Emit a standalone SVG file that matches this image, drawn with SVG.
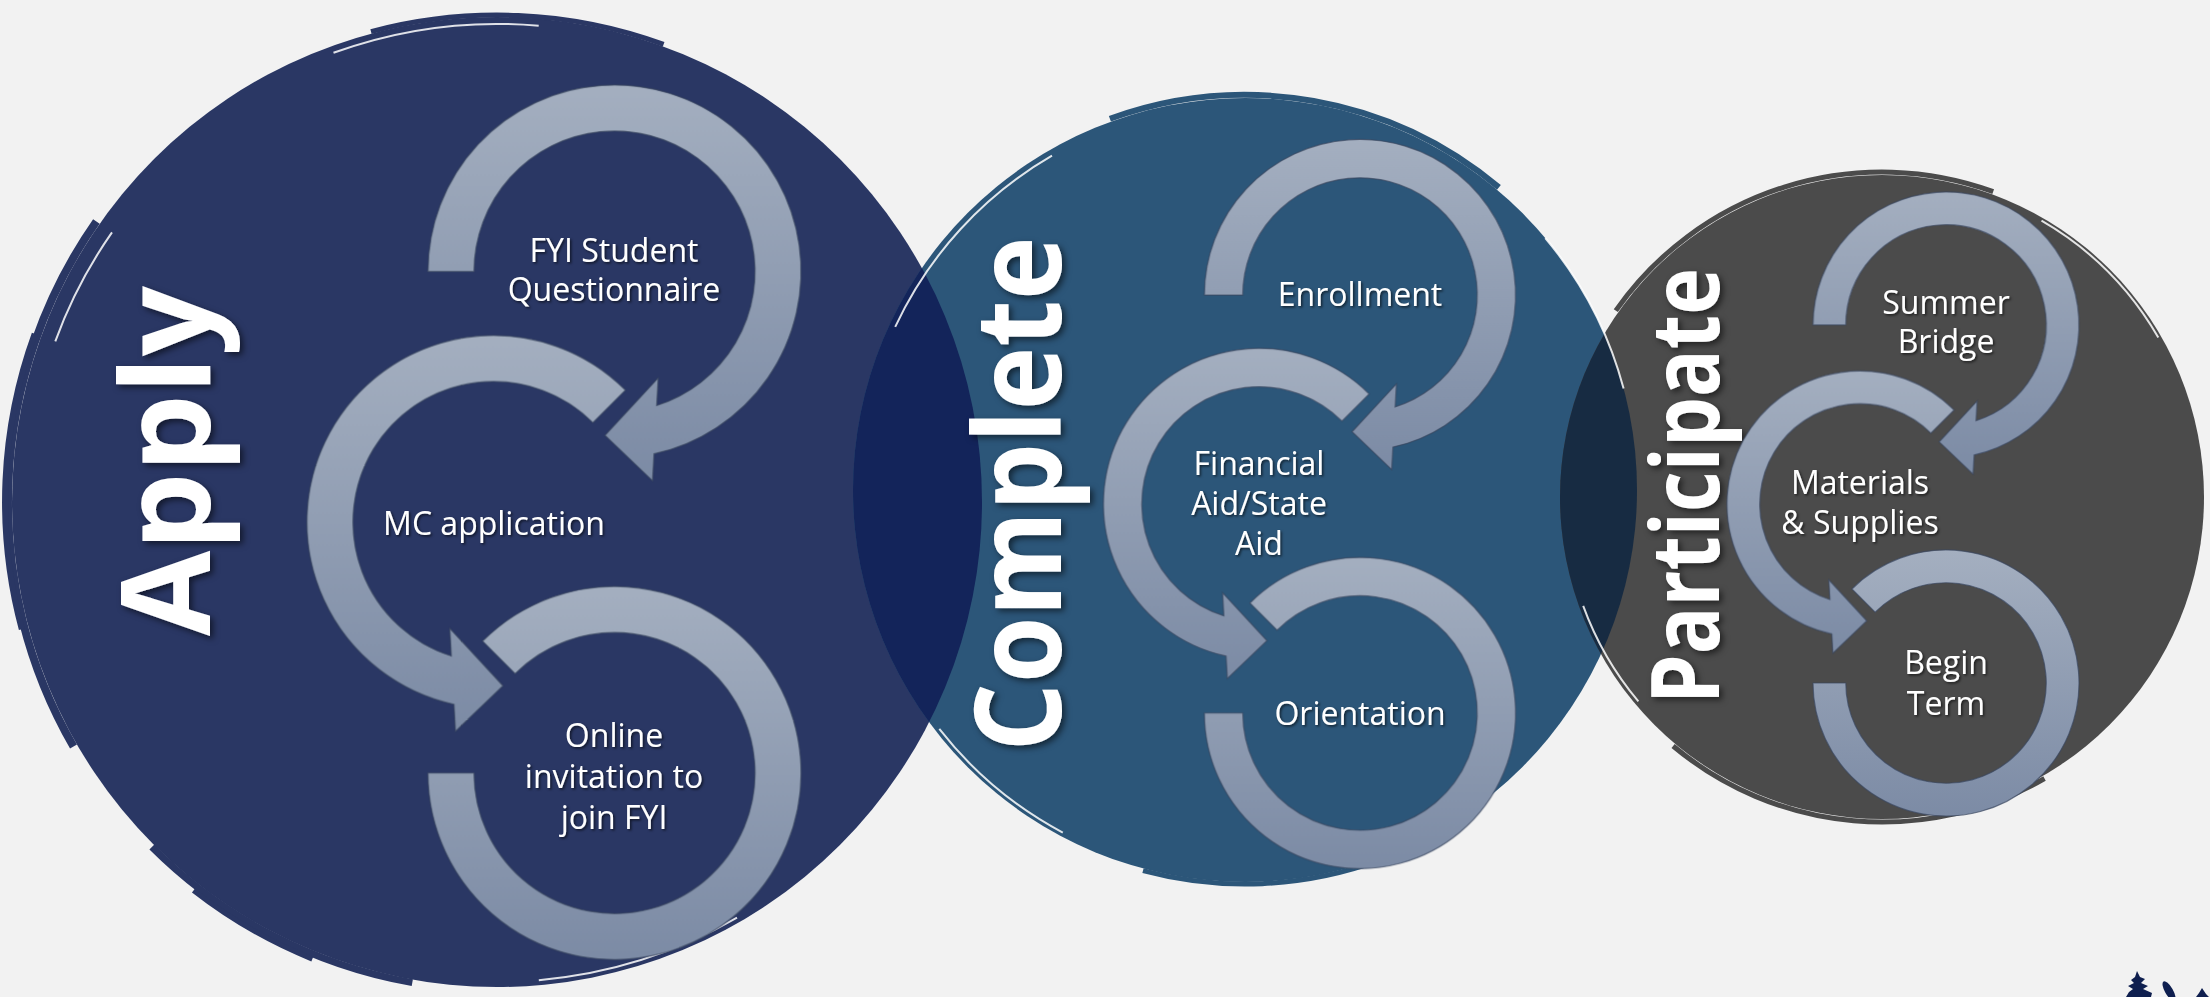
<svg xmlns="http://www.w3.org/2000/svg" width="2210" height="997" viewBox="0 0 2210 997">
<style>
.lbl{font-family:"Open Sans","Noto Sans","Liberation Sans",sans-serif;font-size:32px;fill:#ffffff;text-anchor:middle}
.ttl{font-family:"Open Sans","Noto Sans","Liberation Sans",sans-serif;font-weight:700;fill:#ffffff;text-anchor:middle}
.ring{fill:url(#rg);stroke:#3b475f;stroke-opacity:0.7;stroke-width:1.2}
.bA{fill:none;stroke:#2a3764}
.bC{fill:none;stroke:#2c5679}
.bP{fill:none;stroke:#4b4b4b}
.wh{fill:none;stroke:#ffffff;stroke-opacity:0.85;stroke-width:2}
</style>
<defs>
<linearGradient id="rg" x1="0" y1="0" x2="0" y2="1">
<stop offset="0" stop-color="#a4afc0"/>
<stop offset="1" stop-color="#7c8ba5"/>
</linearGradient>
<filter id="ts" x="-20%" y="-20%" width="140%" height="140%">
<feDropShadow dx="3" dy="3" stdDeviation="3" flood-color="#000000" flood-opacity="0.55"/>
</filter>
<filter id="ls" x="-20%" y="-30%" width="140%" height="160%">
<feDropShadow dx="1.5" dy="1.5" stdDeviation="1.2" flood-color="#000000" flood-opacity="0.6"/>
</filter>
<path id="rT" vector-effect="non-scaling-stroke" d="M-100 0 A100 100 0 1 1 21.18 97.73 L20.38 112.16 L-5.07 87.85 L23.42 57.09 L22.6 71.88 A75.35 75.35 0 1 0 -75.35 0 Z"/>
<path id="rM" vector-effect="non-scaling-stroke" d="M70.71 -70.71 A100 100 0 1 0 -21.18 97.73 L-20.38 112.16 L5.07 87.85 L-23.42 57.09 L-22.6 71.88 A75.35 75.35 0 1 1 53.28 -53.28 Z"/>
<path id="rB" vector-effect="non-scaling-stroke" d="M-70.71 -70.71 A100 100 0 1 1 -100 0 L-75.35 0 A75.35 75.35 0 1 0 -53.28 -53.28 Z"/>
<clipPath id="cA"><circle cx="497" cy="502" r="485"/></clipPath>
<clipPath id="cP"><circle cx="1882" cy="497" r="322"/></clipPath>
</defs>

<rect x="0" y="0" width="2210" height="997" fill="#f2f2f2"/>

<g id="backgrounds">
<circle id="circle-apply" cx="497" cy="502" r="485" fill="#2a3764"/>
<circle id="circle-complete" cx="1245" cy="490" r="392" fill="#2c5679"/>
<circle id="circle-participate" cx="1882" cy="497" r="322" fill="#4b4b4b"/>
<circle cx="1245" cy="490" r="392" fill="#13245a" clip-path="url(#cA)"/>
<circle cx="1245" cy="490" r="392" fill="#172b42" clip-path="url(#cP)"/>
</g>

<g id="brush">
<path class="bA" stroke-width="8" d="M73.5 746.5 A489 489 0 0 1 96.4 221.5"/>
<path class="bA" stroke-width="6" d="M21.8 629.3 A492 492 0 0 1 34.7 333.7"/>
<path class="bA" stroke-width="7" d="M412.3 982.6 A488 488 0 0 1 151.9 847.1"/>
<path class="bA" stroke-width="5" d="M312.3 959.1 A493 493 0 0 1 193.5 890.5"/>
<path class="bA" stroke-width="5" d="M371 31.6 A487 487 0 0 1 663.6 44.4"/>
<path class="wh" d="M333.5 52.8 A478 478 0 0 1 538.7 25.8"/>
<path class="wh" d="M737 917.7 A480 480 0 0 1 538.8 980.2"/>
<path class="wh" stroke-width="1.5" d="M55.3 341.3 A470 470 0 0 1 112 232.4"/>
<path class="bC" stroke-width="6" d="M1109.9 118.8 A395 395 0 0 1 1498.9 187.4"/>
<path class="bC" stroke-width="5" d="M1379.8 860.2 A394 394 0 0 1 1143 870.6"/>
<path class="wh" d="M895.2 326.9 A386 386 0 0 1 1052 155.7"/>
<path class="wh" d="M1062.8 832.6 A388 388 0 0 1 939.3 728.9"/>
<path class="wh" stroke-width="1.5" d="M1545.3 238 A392 392 0 0 1 1623.6 388.5"/>
<path class="bP" stroke-width="5" d="M1615.8 310.6 A325 325 0 0 1 1993.2 191.6"/>
<path class="bP" stroke-width="5" d="M2044.5 778.5 A325 325 0 0 1 1673.1 746"/>
<path class="wh" stroke-width="1.5" d="M1638.4 701.4 A318 318 0 0 1 1583.2 605.8"/>
<path class="wh" stroke-width="1.5" d="M2041.5 220.7 A319 319 0 0 1 2158.3 337.5"/>
</g>

<g id="titles" filter="url(#ts)">
<text id="title-apply" class="ttl" font-size="124" textLength="350" lengthAdjust="spacingAndGlyphs" transform="translate(210 461) rotate(-90)">Apply</text>
<text id="title-complete" class="ttl" font-size="120" textLength="515" lengthAdjust="spacingAndGlyphs" transform="translate(1061 494) rotate(-90)">Complete</text>
<text id="title-participate" class="ttl" font-size="95" textLength="436" lengthAdjust="spacingAndGlyphs" transform="translate(1719 486) rotate(-90)">Participate</text>
</g>

<g id="connectors">
<use class="ring" href="#rB" transform="translate(614.5 773) scale(1.865)"/>
<use class="ring" href="#rM" transform="translate(493.5 522) scale(1.865)"/>
<use class="ring" href="#rT" transform="translate(614.5 271.5) scale(1.865)"/>
<use class="ring" href="#rB" transform="translate(1360 713) scale(1.556)"/>
<use class="ring" href="#rM" transform="translate(1259 504) scale(1.556)"/>
<use class="ring" href="#rT" transform="translate(1360 295) scale(1.556)"/>
<use class="ring" href="#rB" transform="translate(1946 683) scale(1.33)"/>
<use class="ring" href="#rM" transform="translate(1860 504) scale(1.33)"/>
<use class="ring" href="#rT" transform="translate(1946 325) scale(1.33)"/>
</g>

<g filter="url(#ls)">
<g id="node-fyi-questionnaire"><text class="lbl" x="614" y="262">FYI Student</text><text class="lbl" x="614" y="301">Questionnaire</text></g>
<g id="node-mc-application"><text class="lbl" x="494" y="535">MC application</text></g>
<g id="node-online-invitation"><text class="lbl" x="614" y="747">Online</text><text class="lbl" x="614" y="788">invitation to</text><text class="lbl" x="614" y="829">join FYI</text></g>
<g id="node-enrollment"><text class="lbl" x="1360" y="306">Enrollment</text></g>
<g id="node-financial-aid"><text class="lbl" x="1259" y="475">Financial</text><text class="lbl" x="1259" y="515">Aid/State</text><text class="lbl" x="1259" y="555">Aid</text></g>
<g id="node-orientation"><text class="lbl" x="1360" y="725">Orientation</text></g>
<g id="node-summer-bridge"><text class="lbl" x="1946" y="314">Summer</text><text class="lbl" x="1946" y="353">Bridge</text></g>
<g id="node-materials"><text class="lbl" x="1860" y="494">Materials</text><text class="lbl" x="1860" y="534">&amp; Supplies</text></g>
<g id="node-begin-term"><text class="lbl" x="1946" y="674">Begin</text><text class="lbl" x="1946" y="715">Term</text></g>
</g>

<g id="trees" fill="#0f1f4f">
<polygon points="2137,971 2140,977 2145,979 2141,983 2148,986 2143,989 2152,993 2151,997 2126,997 2129,992 2133,989 2128,986 2134,983 2131,980 2135,977"/>
<ellipse cx="2169" cy="991" rx="4" ry="11" transform="rotate(-30 2169 991)"/>
<polygon points="2202,988 2206,994 2209,997 2196,997 2199,993"/>
</g>
</svg>
